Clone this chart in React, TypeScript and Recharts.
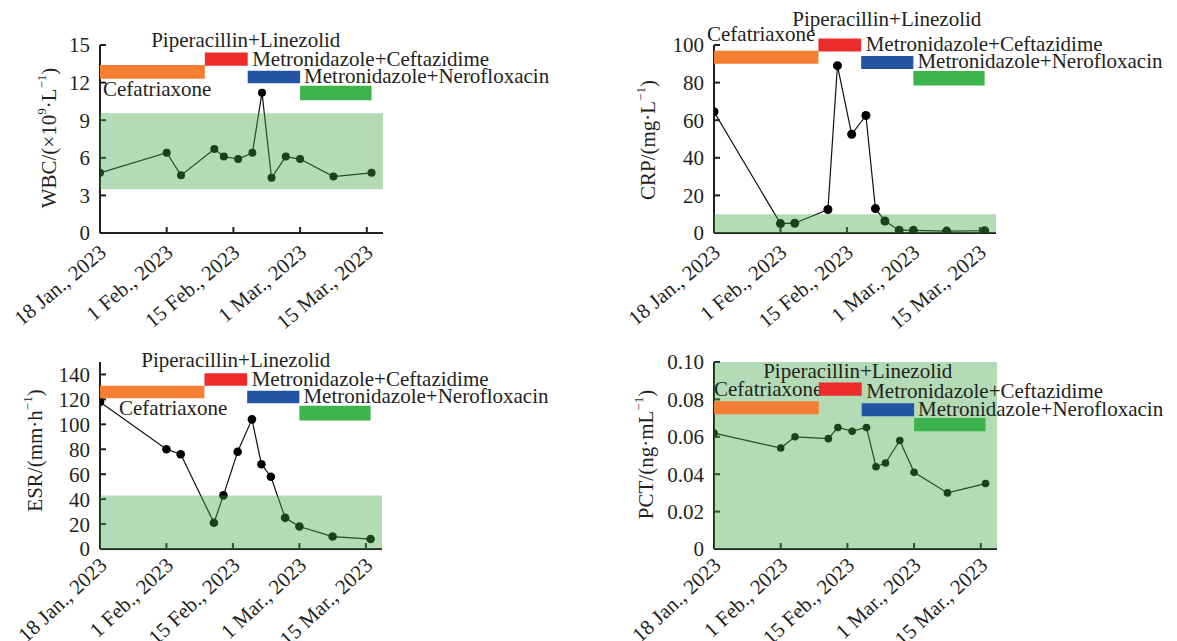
import React from 'react';
import { LineChart, Line, XAxis, YAxis, ReferenceArea } from 'recharts';

const FONT = '"Liberation Serif", "Times New Roman", serif';
const TEXT = '#231f20';
const FS = 21;
const START = Date.UTC(2023, 0, 18);
const toDay = (s: string) => (Date.parse(s + 'T00:00:00Z') - START) / 86400000;

// sampling dates (same for all four markers)
const sampleDates = [
  '2023-01-18', '2023-02-01', '2023-02-04', '2023-02-11', '2023-02-13', '2023-02-16', '2023-02-19',
  '2023-02-21', '2023-02-23', '2023-02-26', '2023-03-01', '2023-03-08', '2023-03-16',
];
const wbcValues = [4.8, 6.4, 4.6, 6.7, 6.1, 5.9, 6.4, 11.2, 4.4, 6.1, 5.9, 4.5, 4.8];
const crpValues = [64.5, 5, 5.2, 12.5, 89, 52.5, 62.5, 13, 6.4, 1.5, 1.4, 1.0, 1.2];
const esrValues = [118, 80, 76, 21, 43, 78, 104, 68, 58, 25, 18, 10, 8];
const pctValues = [0.062, 0.054, 0.06, 0.059, 0.065, 0.063, 0.065, 0.044, 0.046, 0.058, 0.041, 0.03, 0.035];

const xTickDates = ['2023-01-18', '2023-02-01', '2023-02-15', '2023-03-01', '2023-03-15'];
const xTickLabels = ['18 Jan., 2023', '1 Feb., 2023', '15 Feb., 2023', '1 Mar., 2023', '15 Mar., 2023'];
const xTickDays = xTickDates.map(toDay);
const X_MAX = 59.4;

// treatment periods
const treatmentNames = ['Cefatriaxone', 'Piperacillin+Linezolid', 'Metronidazole+Ceftazidime', 'Metronidazole+Nerofloxacin'];
const treatmentStart = ['2023-01-18', '2023-02-09', '2023-02-18', '2023-03-01'];
const treatmentEnd = ['2023-02-09', '2023-02-18', '2023-03-01', '2023-03-16'];
const treatmentColors = ['#f47f32', '#ee2b2b', '#2455a4', '#3cb44b'];

// vertical extent of each treatment bar, per panel (data units)
const wbcBarLow = [12.3, 13.35, 11.95, 10.6];
const wbcBarHigh = [13.4, 14.4, 12.95, 11.75];
const crpBarLow = [90, 96.5, 87.3, 78.4];
const crpBarHigh = [97, 103.5, 94.2, 86.2];
const esrBarLow = [121, 131, 117, 103];
const esrBarHigh = [131, 141, 127, 115];
const pctBarLow = [0.072, 0.082, 0.071, 0.063];
const pctBarHigh = [0.079, 0.089, 0.078, 0.07];

// normal reference ranges
const wbcNormal = [3.5, 9.55];
const crpNormal = [0, 10];
const esrNormal = [0, 43];
const pctNormal = [0, 0.1];

const wbcTicks = [0, 3, 6, 9, 12, 15];
const crpTicks = [0, 20, 40, 60, 80, 100];
const esrTicks = [0, 20, 40, 60, 80, 100, 120, 140];
const pctTicks = [0, 0.02, 0.04, 0.06, 0.08, 0.1];

type Seg = [string, boolean];

const panels = [
  {
    left: 0, top: 0, width: 600, height: 340, mt: 45, mr: 217, yw: 100, xh: 107,
    values: wbcValues, yMax: 15, ticks: wbcTicks, fmt: (v: number) => String(v),
    normal: wbcNormal, barLow: wbcBarLow, barHigh: wbcBarHigh, dotR: 4,
    title: [['WBC/(×10', false], ['9', true], ['·L', false], ['−1', true], [')', false]] as Seg[],
    titleOff: 51, titleDy: -1, xAngle: -40, xMargin: 16,
    cef: { dx: 3, below: true, dy: 17.5 }, pip: { dx: 19.5, dy: -5.6 },
  },
  {
    left: 600, top: 0, width: 577, height: 340, mt: 45, mr: 181, yw: 114, xh: 107,
    values: crpValues, yMax: 100, ticks: crpTicks, fmt: (v: number) => String(v),
    normal: crpNormal, barLow: crpBarLow, barHigh: crpBarHigh, dotR: 4.5,
    title: [['CRP/(mg·L', false], ['−1', true], [')', false]] as Seg[],
    titleOff: 66, titleDy: 1, xAngle: -40, xMargin: 16,
    cef: { dx: -7, below: false, dy: -10 }, pip: { dx: 47, dy: -12.6 },
  },
  {
    left: 0, top: 340, width: 600, height: 301, mt: 22, mr: 218, yw: 100, xh: 92,
    values: esrValues, yMax: 150, ticks: esrTicks, fmt: (v: number) => String(v),
    normal: esrNormal, barLow: esrBarLow, barHigh: esrBarHigh, dotR: 4.3,
    title: [['ESR/(mm·h', false], ['−1', true], [')', false]] as Seg[],
    titleOff: 65, titleDy: -5, xAngle: -43, xMargin: 13,
    cef: { dx: 19, below: true, dy: 16.7 }, pip: { dx: 10, dy: -6 },
  },
  {
    left: 600, top: 340, width: 577, height: 301, mt: 22, mr: 180, yw: 114, xh: 92,
    values: pctValues, yMax: 0.1, ticks: pctTicks, fmt: (v: number) => (v === 0 ? '0' : v.toFixed(2)),
    normal: pctNormal, barLow: pctBarLow, barHigh: pctBarHigh, dotR: 3.8,
    title: [['PCT/(ng·mL', false], ['−1', true], [')', false]] as Seg[],
    titleOff: 67.6, titleDy: -1, xAngle: -43, xMargin: 13,
    cef: { dx: 0, below: false, dy: -5.7 }, pip: { dx: 17.5, dy: -5 },
  },
];

type PanelCfg = typeof panels[number];

const DateTick = (props: any) => {
  const { x, y, payload, angle } = props;
  const label = xTickLabels[xTickDays.indexOf(payload.value)];
  const ax = x - 2;
  return (
    <text x={ax} y={y} transform={`rotate(${angle}, ${ax}, ${y})`} textAnchor="end" dy="0.71em"
      fontSize={FS} fontFamily={FONT} fill={TEXT}>
      {label}
    </text>
  );
};

const YTitle = (props: any) => {
  const { viewBox, cfg } = props;
  if (!viewBox) return null;
  const cx = viewBox.x + viewBox.width - cfg.titleOff;
  const cy = viewBox.y + viewBox.height / 2 + cfg.titleDy;
  let cur = 0;
  return (
    <text x={cx} y={cy} transform={`rotate(-90, ${cx}, ${cy})`} textAnchor="middle" dominantBaseline="central"
      fontSize={FS} fontFamily={FONT} fill={TEXT}>
      {(cfg.title as Seg[]).map(([t, sup], i) => {
        const target = sup ? -8 : 0;
        const dy = target - cur;
        cur = target;
        return (
          <tspan key={i} dy={dy} fontSize={sup ? 13 : FS}>{t}</tspan>
        );
      })}
    </text>
  );
};

// each drug name sits next to its own bar
const barLabel = (i: number, cfg: PanelCfg) => (p: any) => {
  const vb = p.viewBox;
  if (!vb) return null;
  const { x, y, width, height } = vb;
  let tx = x + 4;
  let ty = y - 2.6;
  let anchor = 'start';
  if (i === 0) {
    tx = x + cfg.cef.dx;
    ty = (cfg.cef.below ? y + height : y) + cfg.cef.dy;
  } else if (i === 1) {
    tx = x + width / 2 + cfg.pip.dx;
    ty = y + cfg.pip.dy;
    anchor = 'middle';
  } else if (i === 2) {
    tx = x + 4.5;
    ty = y - 4.8;
  }
  return (
    <text x={tx} y={ty} textAnchor={anchor as any} fontSize={FS} fontFamily={FONT} fill={TEXT}>
      {treatmentNames[i]}
    </text>
  );
};

const axisStyle = { stroke: TEXT, strokeWidth: 2 };

function Panel({ cfg }: { cfg: PanelCfg }) {
  const data = sampleDates.map((d, i) => ({ day: toDay(d), value: cfg.values[i] }));
  return (
    <div style={{ position: 'absolute', left: cfg.left, top: cfg.top }}>
      <LineChart width={cfg.width} height={cfg.height} data={data}
        margin={{ top: cfg.mt, right: cfg.mr, left: 0, bottom: 0 }}>
        <XAxis type="number" dataKey="day" domain={[0, X_MAX]} ticks={xTickDays} allowDataOverflow
          height={cfg.xh} interval={0} tickSize={-6} tickMargin={cfg.xMargin}
          tick={<DateTick angle={cfg.xAngle} />}
          axisLine={axisStyle} tickLine={axisStyle} />
        <YAxis type="number" domain={[0, cfg.yMax]} ticks={cfg.ticks} allowDataOverflow width={cfg.yw}
          interval={0} tickSize={-6} tickMargin={16} tickFormatter={cfg.fmt}
          tick={{ fontSize: FS, fontFamily: FONT, fill: TEXT }}
          axisLine={axisStyle} tickLine={axisStyle}
          label={<YTitle cfg={cfg} />} />
        <Line type="linear" dataKey="value" stroke="#111" strokeWidth={1.2}
          dot={{ r: cfg.dotR, fill: '#000', stroke: '#000', strokeWidth: 0 }}
          activeDot={false} isAnimationActive={false} />
        <ReferenceArea x1={0} x2={X_MAX} y1={cfg.normal[0]} y2={cfg.normal[1]} zIndex={650}
          fill="#41a547" fillOpacity={0.4} stroke="none" ifOverflow="visible" />
        {treatmentNames.map((name, i) => (
          <ReferenceArea key={name} x1={toDay(treatmentStart[i])} x2={toDay(treatmentEnd[i])}
            y1={cfg.barLow[i]} y2={cfg.barHigh[i]} fill={treatmentColors[i]} fillOpacity={1} zIndex={660}
            stroke="none" ifOverflow="visible" label={barLabel(i, cfg)} />
        ))}
      </LineChart>
    </div>
  );
}

export default function App() {
  return (
    <div style={{ position: 'absolute', left: 0, top: 0, width: 1177, height: 641, background: '#fff' }}>
      {panels.map((cfg, i) => (
        <Panel key={i} cfg={cfg} />
      ))}
    </div>
  );
}
